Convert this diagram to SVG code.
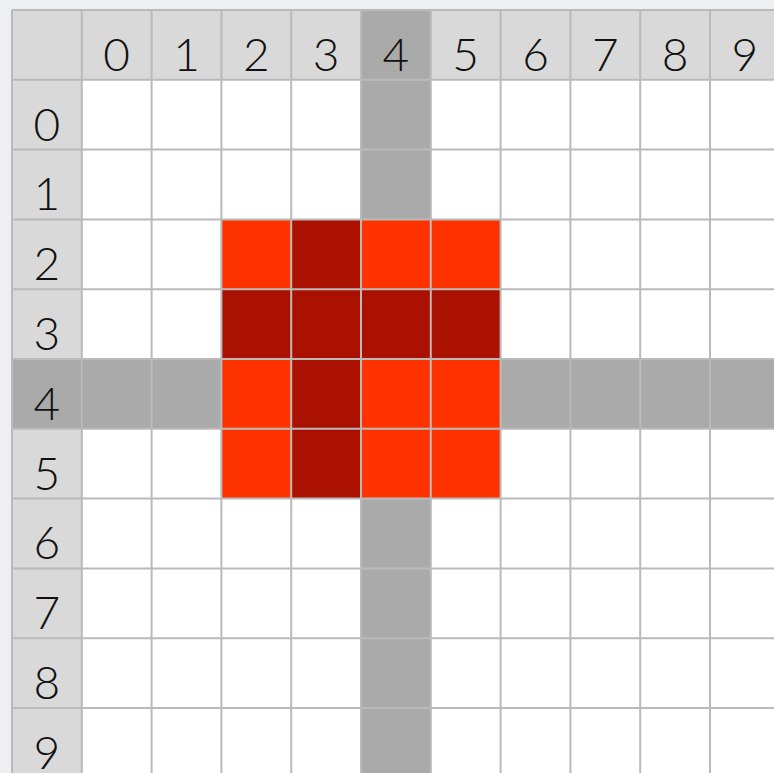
<svg xmlns="http://www.w3.org/2000/svg" width="774" height="773" viewBox="0 0 774 773">
<style>
.hdr{fill:#d9d9d9}
.hl{fill:#aaaaaa}
.hot{fill:#ff3300}
.dark{fill:#aa1100}
.grid{stroke:#bababa;stroke-width:2;fill:none}
.lbl{font-family:Lato,"Open Sans","DejaVu Sans",sans-serif;font-weight:300;font-size:46px;fill:#111;text-anchor:middle}
</style>
<rect x="0" y="0" width="774" height="773" fill="#eeeff0"/>
<rect x="12" y="10" width="768" height="768" fill="#ffffff"/>
<g id="headers">
<rect class="hdr" x="12" y="10" width="768" height="69.8"/>
<rect class="hdr" x="12" y="10" width="69.8" height="768"/>
<rect class="hl" x="361" y="10" width="69.8" height="69.8"/>
<rect class="hl" x="12" y="359" width="69.8" height="69.8"/>
</g>
<g id="bands">
<rect class="hl" x="361" y="79.8" width="69.8" height="700"/>
<rect class="hl" x="81.8" y="359" width="700" height="69.8"/>
</g>
<g id="block">
<rect class="hot" x="221.4" y="219.4" width="279.2" height="279.2"/>
<rect class="dark" x="291.2" y="219.4" width="69.8" height="279.2"/>
<rect class="dark" x="221.4" y="289.2" width="279.2" height="69.8"/>
</g>
<g id="gridlines">
<path class="grid" d="M12 10V773M81.8 10V773M151.6 10V773M221.4 10V773M291.2 10V773M361 10V773M430.8 10V773M500.6 10V773M570.4 10V773M640.2 10V773M710 10V773M12 10H774M12 79.8H774M12 149.6H774M12 219.4H774M12 289.2H774M12 359H774M12 428.8H774M12 498.6H774M12 568.4H774M12 638.2H774M12 708H774"/>
</g>
<g id="col-labels">
<text class="lbl" x="116.7" y="71">0</text>
<text class="lbl" x="186.5" y="71">1</text>
<text class="lbl" x="256.3" y="71">2</text>
<text class="lbl" x="326.1" y="71">3</text>
<text class="lbl" x="395.9" y="71">4</text>
<text class="lbl" x="465.7" y="71">5</text>
<text class="lbl" x="535.5" y="71">6</text>
<text class="lbl" x="605.3" y="71">7</text>
<text class="lbl" x="675.1" y="71">8</text>
<text class="lbl" x="744.9" y="71">9</text>
</g>
<g id="row-labels">
<text class="lbl" x="46.9" y="140.6">0</text>
<text class="lbl" x="46.9" y="210.4">1</text>
<text class="lbl" x="46.9" y="280.2">2</text>
<text class="lbl" x="46.9" y="350">3</text>
<text class="lbl" x="46.9" y="419.8">4</text>
<text class="lbl" x="46.9" y="489.6">5</text>
<text class="lbl" x="46.9" y="559.4">6</text>
<text class="lbl" x="46.9" y="629.2">7</text>
<text class="lbl" x="46.9" y="699">8</text>
<text class="lbl" x="46.9" y="768.8">9</text>
</g>
</svg>
